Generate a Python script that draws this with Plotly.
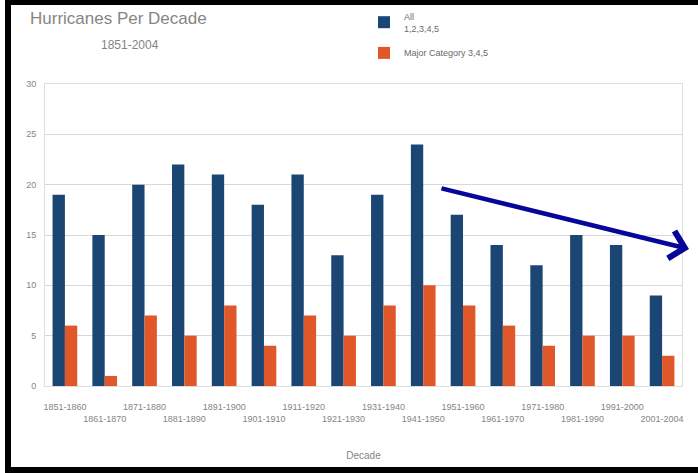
import plotly.graph_objects as go

# Data
decades = ['1851-1860', '1861-1870', '1871-1880', '1881-1890', '1891-1900',
           '1901-1910', '1911-1920', '1921-1930', '1931-1940', '1941-1950',
           '1951-1960', '1961-1970', '1971-1980', '1981-1990', '1991-2000',
           '2001-2004']
all_storms = [19, 15, 20, 22, 21, 18, 21, 13, 19, 24, 17, 14, 12, 15, 14, 9]
major_storms = [6, 1, 7, 5, 8, 4, 7, 5, 8, 10, 8, 6, 4, 5, 5, 3]

# staggered tick labels, every second one on a lower row
tick_text = [d if i % 2 == 0 else '<br>' + d for i, d in enumerate(decades)]

W, H = 698, 473
L, R, T, B = 45, 16, 84, 87
pw, ph = W - L - R, H - T - B


def px_x(x):
    return (x - L) / pw


def px_y(y):
    return (H - B - y) / ph


grey = '#858585'
fig = go.Figure()
fig.add_trace(go.Bar(x=decades, y=all_storms, name='All<br>1,2,3,4,5',
                     legendgroup='all',
                     marker=dict(color='#1b4673', line=dict(width=0))))
fig.add_trace(go.Bar(x=decades, y=major_storms, name='Major Category 3,4,5',
                     legendgroup='major',
                     marker=dict(color='#e0572a', line=dict(width=0))))

fig.update_layout(
    width=W, height=H,
    margin=dict(l=L, r=R, t=T, b=B, autoexpand=False),
    paper_bgcolor='white', plot_bgcolor='white',
    barmode='group', bargap=0.38, bargroupgap=0,
    font=dict(family='Liberation Sans, Arial', size=9, color=grey),
    showlegend=True,
    legend=dict(x=px_x(364), y=px_y(4), xanchor='left', yanchor='top',
                font=dict(size=9, color='#6a6a6a'), tracegroupgap=8,
                bgcolor='rgba(0,0,0,0)'),
    xaxis=dict(tickmode='array', tickvals=decades, ticktext=tick_text,
               tickangle=0, showgrid=False, showline=True, mirror=True,
               linecolor='#dddddd', linewidth=1, ticks='',
               ticklabelstandoff=12,
               tickfont=dict(size=9, color=grey),
               title=dict(text='Decade', font=dict(size=10, color=grey), standoff=29)),
    yaxis=dict(range=[0, 30], dtick=5, showgrid=True, gridcolor='#d8d8d8',
               showline=True, mirror=True, linecolor='#dddddd', linewidth=1,
               zeroline=False, tickfont=dict(size=9, color=grey), ticks='',
               ticklabelstandoff=6),
)

fig.add_annotation(text='Hurricanes Per Decade', xref='paper', yref='paper',
                   x=px_x(28), y=px_y(18), xanchor='left', yanchor='middle',
                   showarrow=False, font=dict(size=17, color=grey))
fig.add_annotation(text='1851-2004', xref='paper', yref='paper',
                   x=px_x(130), y=px_y(45), xanchor='center', yanchor='middle',
                   showarrow=False, font=dict(size=12, color=grey))

# blue trend arrow drawn over the chart
fig.add_annotation(text='', xref='paper', yref='paper',
                   x=px_x(689), y=px_y(249), axref='pixel', ayref='pixel',
                   ax=-249, ay=-61, showarrow=True, arrowhead=4,
                   arrowsize=1.2, arrowwidth=4.5, arrowcolor='#06069a')

# black frame around the picture
fig.add_shape(type='rect', xref='paper', yref='paper',
              x0=px_x(8), x1=px_x(710), y0=px_y(470), y1=px_y(2),
              line=dict(color='black', width=6), layer='above')

fig.write_html('out.html', config={'displayModeBar': False},
               post_script="document.body.style.margin='0';")
